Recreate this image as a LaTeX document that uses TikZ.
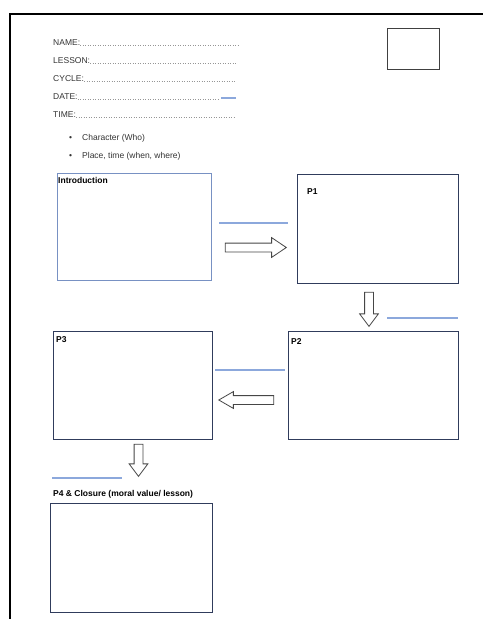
\documentclass[tikz,border=0pt]{standalone}
\usepackage{fontspec}
\setmainfont{Liberation Sans}
\usetikzlibrary{shapes.arrows}
\definecolor{boxline}{RGB}{48,60,92}
\definecolor{introline}{RGB}{120,145,195}
\definecolor{blueline}{RGB}{140,168,220}
\definecolor{arrline}{RGB}{70,70,70}
\definecolor{dotgray}{RGB}{150,150,150}
\tikzset{
  pbox/.style={draw=boxline, line width=1.3pt, inner sep=0pt, anchor=north west},
  ibox/.style={draw=introline, line width=0.8pt, inner sep=0pt, anchor=north west},
  lbl/.style={font=\fontsize{8.5}{10}\selectfont\bfseries, inner sep=0pt, anchor=north west},
  hdr/.style={font=\fontsize{8.5}{10}\selectfont, inner sep=0pt, anchor=base west, text=black!80},
  dotline/.style={draw=dotgray, line width=0.5pt, dotted},
  bline/.style={draw=blueline, line width=1.1pt},
  barrow/.style={shape=single arrow, draw=arrline, line width=0.8pt, fill=white, inner xsep=0pt, inner ysep=4pt, anchor=tip},
  border/.style={draw=black, line width=2pt}
}
\begin{document}
\begin{tikzpicture}[x=1pt,y=-1pt]
\useasboundingbox (0,0) rectangle (483,619);
% page border
\draw[border] (10,619) -- (10,14) -- (483,14);
% top-right square
\node[draw=black!75, line width=1pt, inner sep=0pt, anchor=north west, minimum width=52pt, minimum height=41pt] (photo) at (387,28) {};
% header fields
\node[hdr] (name) at (53,45) {NAME:};
\node[hdr] (lesson) at (53,63) {LESSON:};
\node[hdr] (cycle) at (53,81) {CYCLE:};
\node[hdr] (date) at (53,99) {DATE:};
\node[hdr] (time) at (53,117) {TIME:};
\coordinate (nameend) at (238,45);
\coordinate (lessonend) at (236,63);
\coordinate (cycleend) at (236,81);
\coordinate (dateend) at (220,99);
\coordinate (timeend) at (236,117);
\draw[dotline] (name.base east) -- (nameend);
\draw[dotline] (lesson.base east) -- (lessonend);
\draw[dotline] (cycle.base east) -- (cycleend);
\draw[dotline] (date.base east) -- (dateend);
\draw[dotline] (time.base east) -- (timeend);
\coordinate (dashA) at (221,98);
\coordinate (dashB) at (236,98);
\draw[bline, line width=1.6pt] (dashA) -- (dashB);
% bullets
\node[hdr] (b1) at (69,140) {•};
\node[hdr] (t1) at (82,140) {Character (Who)};
\node[hdr] (b2) at (69,158) {•};
\node[hdr] (t2) at (82,158) {Place, time (when, where)};
% boxes
\node[ibox, minimum width=154pt, minimum height=107pt] (intro) at (57,173) {};
\node[lbl] (introlbl) at (58,177) {Introduction};
\node[pbox, minimum width=161pt, minimum height=109pt] (p1) at (297,174) {};
\node[lbl] (p1lbl) at (307,188) {P1};
\node[pbox, minimum width=170pt, minimum height=108pt] (p2) at (288,331) {};
\node[lbl] (p2lbl) at (291,338) {P2};
\node[pbox, minimum width=159pt, minimum height=108pt] (p3) at (53,331) {};
\node[lbl] (p3lbl) at (56,336) {P3};
\node[lbl] (p4lbl) at (53,490) {P4 \& Closure (moral value/ lesson)};
\node[pbox, minimum width=162pt, minimum height=109pt] (p4) at (50,503) {};
% blue lines
\coordinate (l1a) at (219,223); \coordinate (l1b) at (288,223);
\draw[bline] (l1a) -- (l1b);
\coordinate (l2a) at (387,318); \coordinate (l2b) at (458,318);
\draw[bline] (l2a) -- (l2b);
\coordinate (l3a) at (215,370); \coordinate (l3b) at (285,370);
\draw[bline] (l3a) -- (l3b);
\coordinate (l4a) at (52,478); \coordinate (l4b) at (122,478);
\draw[bline] (l4a) -- (l4b);
% block arrows
\node[barrow, minimum height=61pt, single arrow head extend=5.5pt, single arrow tip angle=68] (a1) at (287,247.5) {};
\node[barrow, minimum height=34pt, single arrow head extend=5pt, single arrow tip angle=74, rotate=-90] (a2) at (369,327) {};
\node[barrow, minimum height=55pt, single arrow head extend=4pt, single arrow tip angle=60, rotate=180] (a3) at (218,400) {};
\node[barrow, minimum height=32pt, single arrow head extend=5pt, single arrow tip angle=74, rotate=-90] (a4) at (138.5,477) {};
\end{tikzpicture}
\end{document}
